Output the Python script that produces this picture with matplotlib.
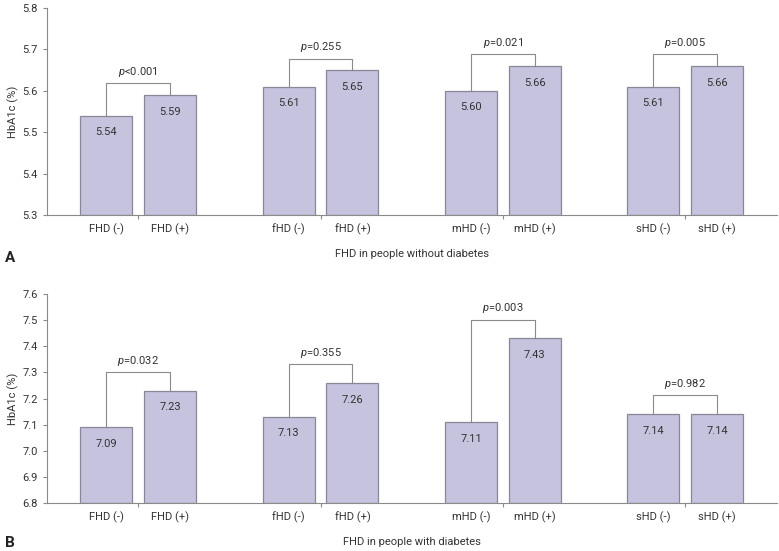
import matplotlib.pyplot as plt
import numpy as np

# --- data ---
categories = [["FHD (-)", "FHD (+)"], ["fHD (-)", "fHD (+)"],
              ["mHD (-)", "mHD (+)"], ["sHD (-)", "sHD (+)"]]
no_diab_neg = [5.54, 5.61, 5.60, 5.61]
no_diab_pos = [5.59, 5.65, 5.66, 5.66]
no_diab_p = ["<0.001", "=0.255", "=0.021", "=0.005"]
diab_neg = [7.09, 7.13, 7.11, 7.14]
diab_pos = [7.23, 7.26, 7.43, 7.14]
diab_p = ["=0.032", "=0.355", "=0.003", "=0.982"]

plt.rcParams["font.family"] = ["Roboto", "DejaVu Sans"]
plt.rcParams["mathtext.fontset"] = "custom"
plt.rcParams["mathtext.it"] = "Roboto:italic"
plt.rcParams["mathtext.rm"] = "Roboto"

BAR = "#c5c3dd"
EDGE = "#8a8898"
TXT = "#333333"
AX = "#8a8a8a"
FS = 8

fig = plt.figure(figsize=(7.79, 5.51), dpi=100)
ax_a = fig.add_axes([0.0603, 0.6098, 0.9365, 0.3757])
ax_b = fig.add_axes([0.0603, 0.0871, 0.9365, 0.3793])


def draw_panel(ax, neg, pos, pvals, ylim, step, bracket_off, xlabel):
    x = np.arange(len(neg))
    off, w = 0.175, 0.285
    ax.bar(x - off, np.array(neg) - ylim[0], w, bottom=ylim[0], color=BAR,
           edgecolor=EDGE, linewidth=0.9)
    ax.bar(x + off, np.array(pos) - ylim[0], w, bottom=ylim[0], color=BAR,
           edgecolor=EDGE, linewidth=0.9)
    for i in range(len(neg)):
        for xx, v in [(x[i] - off, neg[i]), (x[i] + off, pos[i])]:
            ax.annotate(f"{v:.2f}", (xx, v), xytext=(0, -12),
                        textcoords="offset points", ha="center", va="center",
                        fontsize=FS, color=TXT)
        top = max(neg[i], pos[i]) + bracket_off
        ax.plot([x[i] - off, x[i] - off, x[i] + off, x[i] + off],
                [neg[i], top, top, pos[i]], color=AX, linewidth=0.8)
        ax.annotate(r"$\it{p}$" + pvals[i], (x[i], top), xytext=(0, 3),
                    textcoords="offset points", ha="center", va="bottom",
                    fontsize=FS, color=TXT)

    ax.set_xlim(-0.5, 3.5)
    ax.set_ylim(*ylim)
    yt = np.arange(ylim[0], ylim[1] + step / 2, step)
    ax.set_yticks(np.round(yt, 2))
    ax.set_yticklabels([f"{v:.1f}" for v in yt])
    ax.set_xticks(x)
    ax.set_xticklabels([])
    ax.set_xticks(np.concatenate([x - off, x + off]), minor=True)
    ax.set_xticklabels([c[0] for c in categories] + [c[1] for c in categories],
                       minor=True)
    ax.tick_params(axis="x", which="major", length=3, color=AX)
    ax.tick_params(axis="x", which="minor", length=0, pad=6, labelsize=FS,
                   labelcolor=TXT)
    ax.tick_params(axis="y", length=3, color=AX, labelsize=FS, labelcolor=TXT)
    for s in ["top", "right"]:
        ax.spines[s].set_visible(False)
    for s in ["left", "bottom"]:
        ax.spines[s].set_color(AX)
        ax.spines[s].set_linewidth(0.8)
    ax.set_ylabel("HbA1c (%)", fontsize=FS, color=TXT)
    ax.yaxis.set_label_coords(-0.038, 0.5)
    ax.set_xlabel(xlabel, fontsize=FS, color=TXT)
    ax.xaxis.set_label_coords(0.5, -0.165)


draw_panel(ax_a, no_diab_neg, no_diab_pos, no_diab_p, (5.3, 5.8), 0.1,
           0.028, "FHD in people without diabetes")
draw_panel(ax_b, diab_neg, diab_pos, diab_p, (6.8, 7.6), 0.1,
           0.072, "FHD in people with diabetes")

fig.text(0.006, 0.532, "A", fontsize=11, fontweight="bold", color="#222222",
         va="center")
fig.text(0.006, 0.0145, "B", fontsize=11, fontweight="bold", color="#222222",
         va="center")

fig.savefig("out.png", dpi=100)
